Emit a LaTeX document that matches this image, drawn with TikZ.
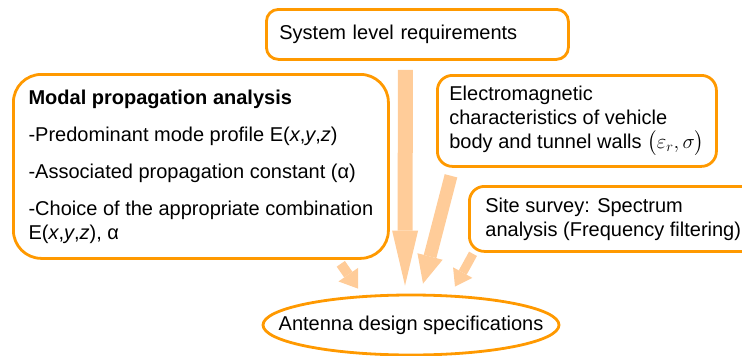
\documentclass[tikz,border=0pt]{standalone}
\usepackage{amsmath}
\usepackage{fontspec}
\setmainfont{Liberation Sans}
\usepackage{xcolor}
\usetikzlibrary{arrows.meta, shapes.geometric, calc, positioning}

\definecolor{boxorange}{RGB}{255,153,0}
\definecolor{arrowpeach}{RGB}{255,204,153}

\begin{document}
\begin{tikzpicture}[x=1pt, y=-1pt,
    box/.style={draw=boxorange, line width=2.8pt, rounded corners=#1, align=left, font=\fontsize{20}{24}\selectfont},
    fat/.style n args={3}{draw=arrowpeach, line width=#1, -{Triangle[length=#2, width=#3, line width=0pt]}}]
                        \useasboundingbox (0, 0) rectangle (742, 356);
                        \node[box=12pt, anchor=north west, minimum width=302pt, minimum height=50pt, text width=276pt, inner xsep=13pt] (sysreq) at (265, 8) {System level requirements};
                        \node[box=28pt, anchor=north west, minimum width=375pt, minimum height=184pt, inner xsep=12pt] (modal) at (12, 73) {\textbf{Modal propagation analysis}\\[13pt]
                        -Predominant mode profile E(\textit{x},\textit{y},\textit{z})\\[13pt]
                        -Associated propagation constant (α)\\[13pt]
                        -Choice of the appropriate combination\\
                        E(\textit{x},\textit{y},\textit{z}), α};
                        \node[box=15pt, anchor=north west, minimum width=279pt, minimum height=91pt, inner xsep=9pt] (emchar) at (436, 74) {Electromagnetic\\
                        characteristics of vehicle\\
                        body and tunnel walls $\bigl(\varepsilon_r,\sigma\bigr)$};
                        \node[box=15pt, anchor=north west, minimum height=65pt, inner xsep=16pt] (survey) at (468, 185) {Site survey: Spectrum\\
                        analysis (Frequency filtering)};
                        \node[draw=boxorange, line width=2.8pt, ellipse, minimum width=296pt, minimum height=60pt, inner xsep=-40pt, inner ysep=0pt, font=\fontsize{20}{24}\selectfont] (antenna) at (411, 325) {Antenna design specifications};
                        \coordinate (s1) at ($(sysreq.south)+(-12, 9)$);
                        \coordinate (t1) at ($(antenna.north)+(-6, -8)$);
                        \coordinate (s2) at ($(emchar.south west)+(15, 8)$);
                        \coordinate (t2) at ($(antenna.north)+(12, -10)$);
                        \coordinate (s3) at ($(survey.south west)+(5, 1)$);
                        \coordinate (t3) at ($(antenna.north)+(44, -7)$);
                        \coordinate (s4) at ($(modal.south east)+(-49, 4)$);
                        \coordinate (t4) at ($(antenna.north)+(-53, -5)$);
                        \draw
                        (s1) edge[fat={15pt}{55pt}{26pt}] (t1)
                        (s2) edge[fat={13pt}{28pt}{26pt}] (t2)
                        (s3) edge[fat={9pt}{16pt}{22pt}] (t3)
                        (s4) edge[fat={10pt}{17pt}{24pt}] (t4);
                    \end{tikzpicture}
\end{document}
